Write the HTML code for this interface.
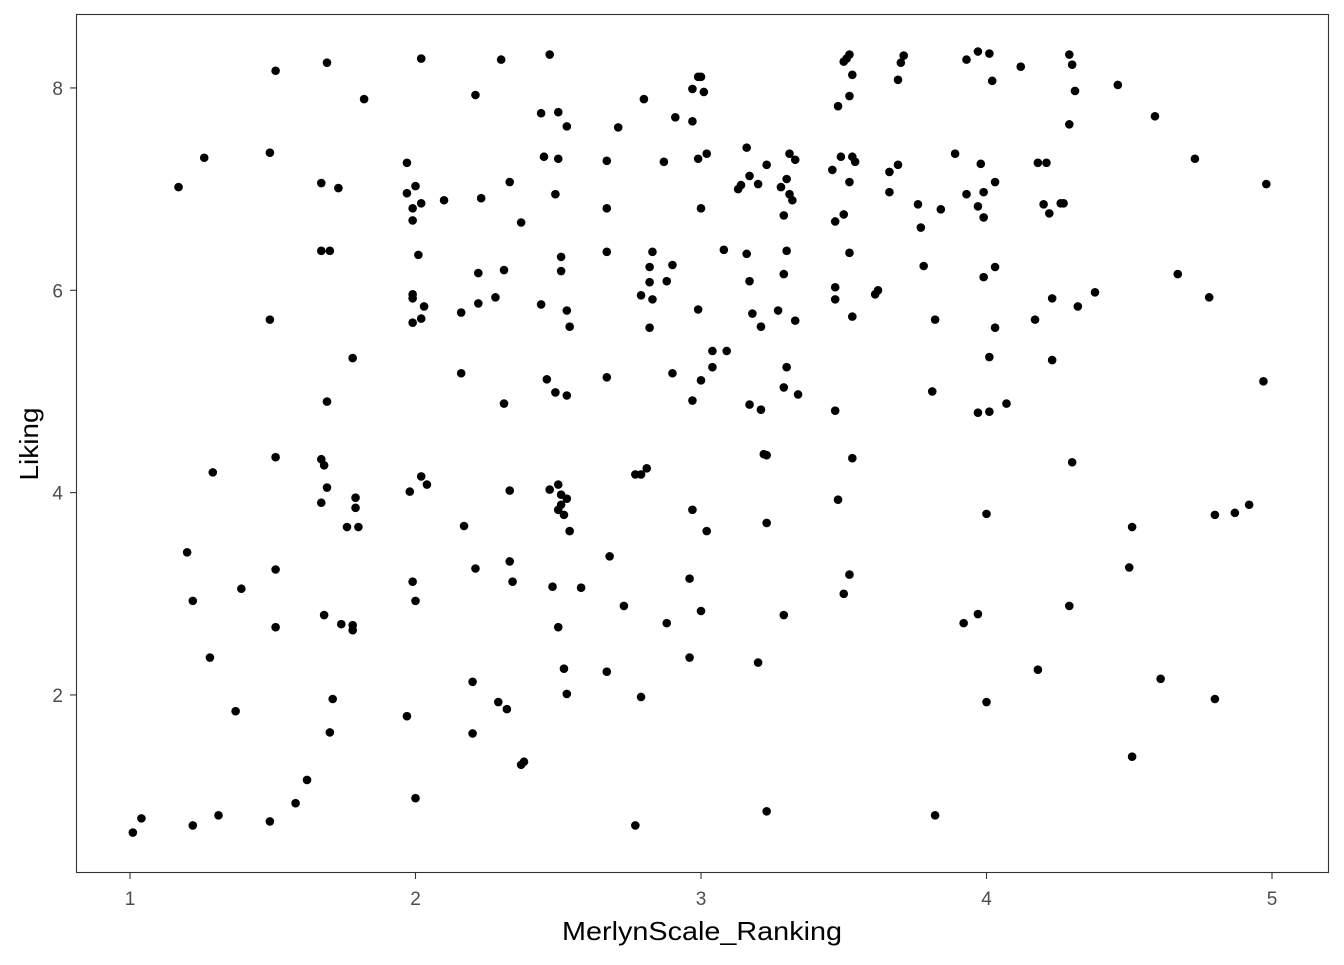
<!DOCTYPE html>
<html><head><meta charset="utf-8"><style>
body{margin:0;background:#fff;}
svg text{font-family:"Liberation Sans",Arial,sans-serif;}
</style></head><body>
<svg id="chart" width="1344" height="960" xmlns="http://www.w3.org/2000/svg">
<rect x="0" y="0" width="1344" height="960" fill="#fff"/>
<g id="marks"></g>
<g id="axes"></g>
<rect x="76.5" y="14.5" width="1252" height="858" fill="none" stroke="#333" stroke-width="1.1"/>
<text x="702" y="940" font-size="26" text-anchor="middle" textLength="280" lengthAdjust="spacingAndGlyphs" fill="#000">MerlynScale_Ranking</text>
<text transform="translate(38,444) rotate(-90)" font-size="26" text-anchor="middle" textLength="73" lengthAdjust="spacingAndGlyphs" fill="#000">Liking</text>
</svg>
<script>
const xTicks=[1,2,3,4,5];
const yTicks=[2,4,6,8];
const xs=[1.01,1.04,1.22,1.31,1.49,1.58,1.62,1.37,1.28,1.22,1.20,1.39,1.51,1.51,1.29,1.51,1.49,1.17,1.26,1.49,1.51,1.69,1.82,1.67,1.73,1.67,1.70,1.78,1.69,1.67,1.68,1.69,1.67,1.79,1.79,1.76,1.80,1.68,1.74,1.78,1.78,1.71,1.70,
2.02,1.97,1.97,2.00,1.99,1.99,2.02,2.10,2.01,1.99,1.99,2.03,1.99,2.02,1.98,2.02,2.04,1.99,2.00,1.97,2.00,
2.30,2.21,2.16,2.22,2.22,2.23,2.28,2.31,2.33,2.37,2.16,2.31,2.17,2.21,2.33,2.33,2.34,2.20,2.29,2.32,2.20,2.37,2.38,
2.47,2.44,2.50,2.53,2.45,2.50,2.49,2.44,2.51,2.51,2.53,2.54,2.46,2.49,2.53,2.47,2.50,2.51,2.53,2.51,2.52,2.54,2.50,2.48,2.58,2.50,2.52,2.53,
2.67,2.71,2.67,2.67,2.67,2.68,2.67,2.73,2.80,2.87,2.83,2.82,2.82,2.79,2.83,2.82,2.88,2.90,2.91,2.97,2.90,2.77,2.79,2.81,2.88,2.79,2.77,
2.97,2.99,3.00,3.01,3.02,2.99,3.00,2.99,3.00,3.04,3.04,3.09,3.08,2.97,2.97,3.02,2.96,3.00,2.96,
3.16,3.17,3.13,3.14,3.20,3.23,3.28,3.30,3.31,3.33,3.31,3.32,3.29,3.16,3.17,3.18,3.21,3.27,3.29,3.30,3.33,3.30,3.29,3.34,3.17,3.21,3.22,3.23,3.23,3.29,3.20,3.23,
3.52,3.50,3.51,3.53,3.52,3.48,3.49,3.53,3.54,3.46,3.52,3.50,3.47,3.52,3.47,3.47,3.53,3.61,3.62,3.47,3.53,3.48,3.52,3.50,
3.71,3.70,3.69,3.69,3.66,3.66,3.76,3.77,3.84,3.78,3.82,3.81,3.82,
3.93,3.97,4.01,4.02,3.89,3.93,3.98,3.99,4.03,3.97,3.99,3.99,4.03,4.03,4.01,3.97,4.01,4.07,4.00,3.92,3.97,4.00,
4.12,4.29,4.30,4.31,4.29,4.46,4.18,4.21,4.20,4.22,4.26,4.27,4.17,4.23,4.32,4.38,4.23,4.30,4.29,4.18,
4.59,4.73,4.98,4.67,4.78,4.97,4.92,4.87,4.80,4.51,4.50,4.61,4.80,4.51];
const ys=[0.64,0.78,0.71,0.81,0.75,0.93,1.16,1.84,2.37,2.93,3.41,3.05,3.24,2.67,4.20,4.35,5.71,7.02,7.31,7.36,8.17,8.25,7.89,7.06,7.01,6.39,6.39,5.33,4.90,4.33,4.27,4.05,3.90,3.95,3.85,3.66,3.66,2.79,2.70,2.69,2.64,1.96,1.63,
8.29,7.26,6.96,7.03,6.81,6.69,6.86,6.89,6.35,5.92,5.96,5.84,5.68,5.72,4.01,4.16,4.08,3.12,2.93,1.79,0.98,
8.28,7.93,5.78,6.17,5.87,6.91,5.93,6.20,7.07,6.67,5.18,4.88,3.67,3.25,4.02,3.32,3.12,2.13,1.93,1.86,1.62,1.31,1.34,
8.33,7.75,7.76,7.62,7.32,7.30,6.95,5.86,6.33,6.19,5.80,5.64,5.12,4.99,4.96,4.03,4.08,3.98,3.94,3.88,3.78,3.62,3.83,3.07,3.06,2.67,2.26,2.01,
7.28,7.61,6.81,6.38,5.14,3.37,2.23,2.88,7.89,7.27,6.38,6.23,6.08,5.95,5.91,5.63,6.09,6.25,7.71,7.67,5.18,4.18,4.18,4.24,2.71,1.98,0.71,
7.99,8.11,8.11,7.96,7.35,7.30,6.81,5.81,5.11,5.24,5.40,5.40,6.40,4.91,3.83,3.62,3.15,2.83,2.37,
7.41,7.13,7.00,7.04,7.05,7.24,7.02,7.10,7.35,7.29,6.95,6.89,6.74,6.36,6.09,5.77,5.64,5.80,6.16,6.39,5.70,5.24,5.04,4.97,4.87,4.82,4.38,4.37,3.70,2.79,2.32,0.85,
8.33,8.26,8.29,8.13,7.92,7.82,7.32,7.32,7.27,7.19,7.07,6.75,6.68,6.37,6.03,5.91,5.74,5.96,6.00,4.81,4.34,3.93,3.19,3.00,
8.32,8.25,8.08,7.24,7.17,6.97,6.85,6.62,6.80,6.24,5.71,5.00,0.81,
8.28,8.36,8.34,8.07,7.35,6.95,7.25,6.97,7.07,6.83,6.72,6.13,6.23,5.63,5.34,4.79,4.80,4.88,3.79,2.71,2.80,1.93,
8.21,8.33,8.23,7.97,7.64,8.03,7.26,7.26,6.85,6.76,6.86,6.86,5.71,5.92,5.84,5.98,5.31,4.30,2.88,2.25,
7.72,7.30,7.05,6.16,5.93,5.10,3.88,3.80,3.78,3.66,3.26,2.16,1.96,1.39];
const NS="http://www.w3.org/2000/svg";
function sx(v){return 130+(v-1)*285.5;}
function sy(v){return 897.3-v*101.17;}
const marks=document.getElementById('marks');
for(let i=0;i<xs.length;i++){
  const c=document.createElementNS(NS,'circle');
  c.setAttribute('cx',sx(xs[i]));c.setAttribute('cy',sy(ys[i]));c.setAttribute('r',4.3);c.setAttribute('fill','#000');
  
  
  marks.appendChild(c);
}
const axes=document.getElementById('axes');
xTicks.forEach(t=>{
  const l=document.createElementNS(NS,'line');
  l.setAttribute('x1',sx(t));l.setAttribute('x2',sx(t));l.setAttribute('y1',873);l.setAttribute('y2',879);l.setAttribute('stroke','#333');l.setAttribute('stroke-width',1.1);
  
  
  axes.appendChild(l);
  const tx=document.createElementNS(NS,'text');
  tx.setAttribute('x',sx(t));tx.setAttribute('y',905);tx.setAttribute('font-size','19');tx.setAttribute('fill','#4d4d4d');tx.setAttribute('text-anchor','middle');
  tx.textContent=t;
  
  
  axes.appendChild(tx);
});
yTicks.forEach(t=>{
  const l=document.createElementNS(NS,'line');
  l.setAttribute('x1',70);l.setAttribute('x2',76);l.setAttribute('y1',sy(t));l.setAttribute('y2',sy(t));l.setAttribute('stroke','#333');l.setAttribute('stroke-width',1.1);
  
  
  axes.appendChild(l);
  const tx=document.createElementNS(NS,'text');
  tx.setAttribute('x',63);tx.setAttribute('y',sy(t)+7);tx.setAttribute('font-size','19');tx.setAttribute('fill','#4d4d4d');tx.setAttribute('text-anchor','end');
  tx.textContent=t;
  
  
  axes.appendChild(tx);
});
</script>
</body></html>
